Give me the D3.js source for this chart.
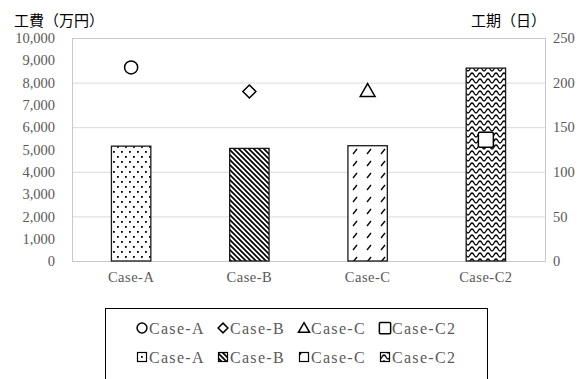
<!DOCTYPE html>
<html>
<head>
<meta charset="utf-8">
<script src="https://cdn.jsdelivr.net/npm/d3@7"></script>
<style>
  html, body { margin: 0; padding: 0; background: #fff; }
  svg { display: block; }
  .tick-label { font-family: "Liberation Serif", serif; fill: #595959; }
  .title { font-family: "Noto Sans CJK JP", sans-serif; fill: #000; }
</style>
</head>
<body>
<svg id="chart" width="581" height="379"></svg>
<script>
// Categories and series
const categories = ["Case-A", "Case-B", "Case-C", "Case-C2"];
const costValues = [5150, 5050, 5170, 8650];      // 工費（万円）, bars, left axis
const periodValues = [217, 190, 191, 136];        // 工期（日）, markers, right axis
const leftTicks = [0, 1000, 2000, 3000, 4000, 5000, 6000, 7000, 8000, 9000, 10000];
const rightTicks = [0, 50, 100, 150, 200, 250];
const markerShapes = ["circle", "diamond", "triangle", "square"];
const barPatterns = ["pat-dots", "pat-diag", "pat-dash", "pat-wave"];

const svg = d3.select("#chart");
const plot = { left: 72, right: 545, top: 38, bottom: 261 };

const x = d3.scaleBand()
  .domain(categories)
  .range([plot.left, plot.right])
  .paddingInner(2 / 3)
  .paddingOuter(1 / 3);
const yL = d3.scaleLinear().domain([0, 10000]).range([plot.bottom, plot.top]);
const yR = d3.scaleLinear().domain([0, 250]).range([plot.bottom, plot.top]);

// Fill patterns for the bars
const defs = svg.append("defs");
function pattern(id, w, h) {
  const p = defs.append("pattern").attr("id", id)
    .attr("patternUnits", "userSpaceOnUse").attr("width", w).attr("height", h);
  p.append("rect").attr("width", w).attr("height", h).attr("fill", "#fff");
  return p;
}
const dots = pattern("pat-dots", 8, 10);
dots.append("rect").attr("x", 1).attr("y", 1).attr("width", 1.8).attr("height", 1.8).attr("fill", "#000");
dots.append("rect").attr("x", 5).attr("y", 6).attr("width", 1.8).attr("height", 1.8).attr("fill", "#000");

const diag = pattern("pat-diag", 5, 5);
diag.append("path").attr("d", "M-1,-1 L6,6 M-1,4 L1,6 M4,-1 L6,1")
  .attr("stroke", "#000").attr("stroke-width", 1.7);

const dash = pattern("pat-dash", 14, 12);
dash.append("path").attr("d", "M3,10 L7,5").attr("stroke", "#000").attr("stroke-width", 1.3);

const wave = pattern("pat-wave", 8, 6);
wave.append("path").attr("d", "M0,1 C2,1 2,5 4,5 C6,5 6,1 8,1")
  .attr("fill", "none").attr("stroke", "#000").attr("stroke-width", 1.3);

// Gridlines (right-axis steps)
svg.append("g").selectAll("line").data(rightTicks.filter(d => d > 0 && d < 250)).join("line")
  .attr("x1", plot.left).attr("x2", plot.right)
  .attr("y1", d => yR(d) + 0.5).attr("y2", d => yR(d) + 0.5)
  .attr("stroke", "#d9d9d9").attr("stroke-width", 1);

// Plot frame
svg.append("rect")
  .attr("x", plot.left + 0.5).attr("y", plot.top + 0.5)
  .attr("width", plot.right - plot.left).attr("height", plot.bottom - plot.top)
  .attr("fill", "none").attr("stroke", "#c8c8c8").attr("stroke-width", 1);

// Bars
svg.append("g").selectAll("rect").data(categories).join("rect")
  .attr("x", d => x(d))
  .attr("width", x.bandwidth())
  .attr("y", (d, i) => yL(costValues[i]))
  .attr("height", (d, i) => yL(0) - yL(costValues[i]))
  .attr("fill", (d, i) => `url(#${barPatterns[i]})`)
  .attr("stroke", "#1a1a1a").attr("stroke-width", 1.3);

// Axes
const axisL = svg.append("g").attr("transform", `translate(${plot.left},0)`)
  .call(d3.axisLeft(yL).tickValues(leftTicks).tickFormat(d3.format(",")).tickSize(0).tickPadding(17));
const axisR = svg.append("g").attr("transform", `translate(${plot.right},0)`)
  .call(d3.axisRight(yR).tickValues(rightTicks).tickSize(0).tickPadding(8));
const axisB = svg.append("g").attr("transform", `translate(0,${plot.bottom})`)
  .call(d3.axisBottom(x).tickSize(0).tickPadding(11));
[axisL, axisR, axisB].forEach(g => {
  g.select(".domain").remove();
  g.selectAll("text").attr("class", "tick-label").attr("font-size", 14.5);
});
axisB.selectAll("text").attr("letter-spacing", 0.5);

// Markers
const symbolOf = { circle: d3.symbolCircle, triangle: d3.symbolTriangle };
const markerSize = { circle: 135, triangle: 95 };
function marker(g, shape, scale) {
  const common = sel => sel.attr("fill", "#fff").attr("stroke", "#000").attr("stroke-width", 1.5);
  if (shape === "square") {
    const s = 15 * scale;
    g.append("rect").attr("x", -s / 2).attr("y", -s / 2).attr("width", s).attr("height", s)
      .attr("rx", 1.5 * scale).call(common);
  } else if (shape === "diamond") {
    const r = 6.5 * scale;
    g.append("path").attr("d", `M0,${-r}L${r},0L0,${r}L${-r},0Z`).call(common);
  } else {
    g.append("path")
      .attr("d", d3.symbol().type(symbolOf[shape]).size(markerSize[shape] * scale * scale)())
      .attr("transform", shape === "triangle" ? `translate(0,${1.5 * scale})` : null)
      .call(common);
  }
}
categories.forEach((c, i) => {
  const g = svg.append("g")
    .attr("transform", `translate(${x(c) + x.bandwidth() / 2},${yR(periodValues[i])})`);
  marker(g, markerShapes[i], 1);
});

// Axis titles
svg.append("text").attr("class", "title").attr("x", 14).attr("y", 26)
  .attr("font-size", 15).text("工費（万円）");
svg.append("text").attr("class", "title").attr("x", 471).attr("y", 26)
  .attr("font-size", 15).text("工期（日）");

// Legend
const legend = svg.append("g");
legend.append("rect").attr("x", 105.5).attr("y", 308.5).attr("width", 382).attr("height", 90)
  .attr("fill", "#fff").attr("stroke", "#000").attr("stroke-width", 1);
const legendX = [142, 223, 304, 385];
const rowY = [328, 357];
categories.forEach((c, i) => {
  const g1 = legend.append("g").attr("transform", `translate(${legendX[i]},${rowY[0]})`);
  marker(g1, markerShapes[i], 0.75);
  legend.append("text").attr("class", "tick-label").attr("x", legendX[i] + 7).attr("y", rowY[0])
    .attr("dy", "0.35em").attr("font-size", 16).attr("letter-spacing", 1.3).text(c);

  legend.append("rect").attr("x", legendX[i] - 4.5).attr("y", rowY[1] - 4.5)
    .attr("width", 9).attr("height", 9)
    .attr("fill", `url(#${barPatterns[i]})`).attr("stroke", "#000").attr("stroke-width", 1.2);
  legend.append("text").attr("class", "tick-label").attr("x", legendX[i] + 7).attr("y", rowY[1])
    .attr("dy", "0.35em").attr("font-size", 16).attr("letter-spacing", 1.3).text(c);
});
</script>
</body>
</html>
